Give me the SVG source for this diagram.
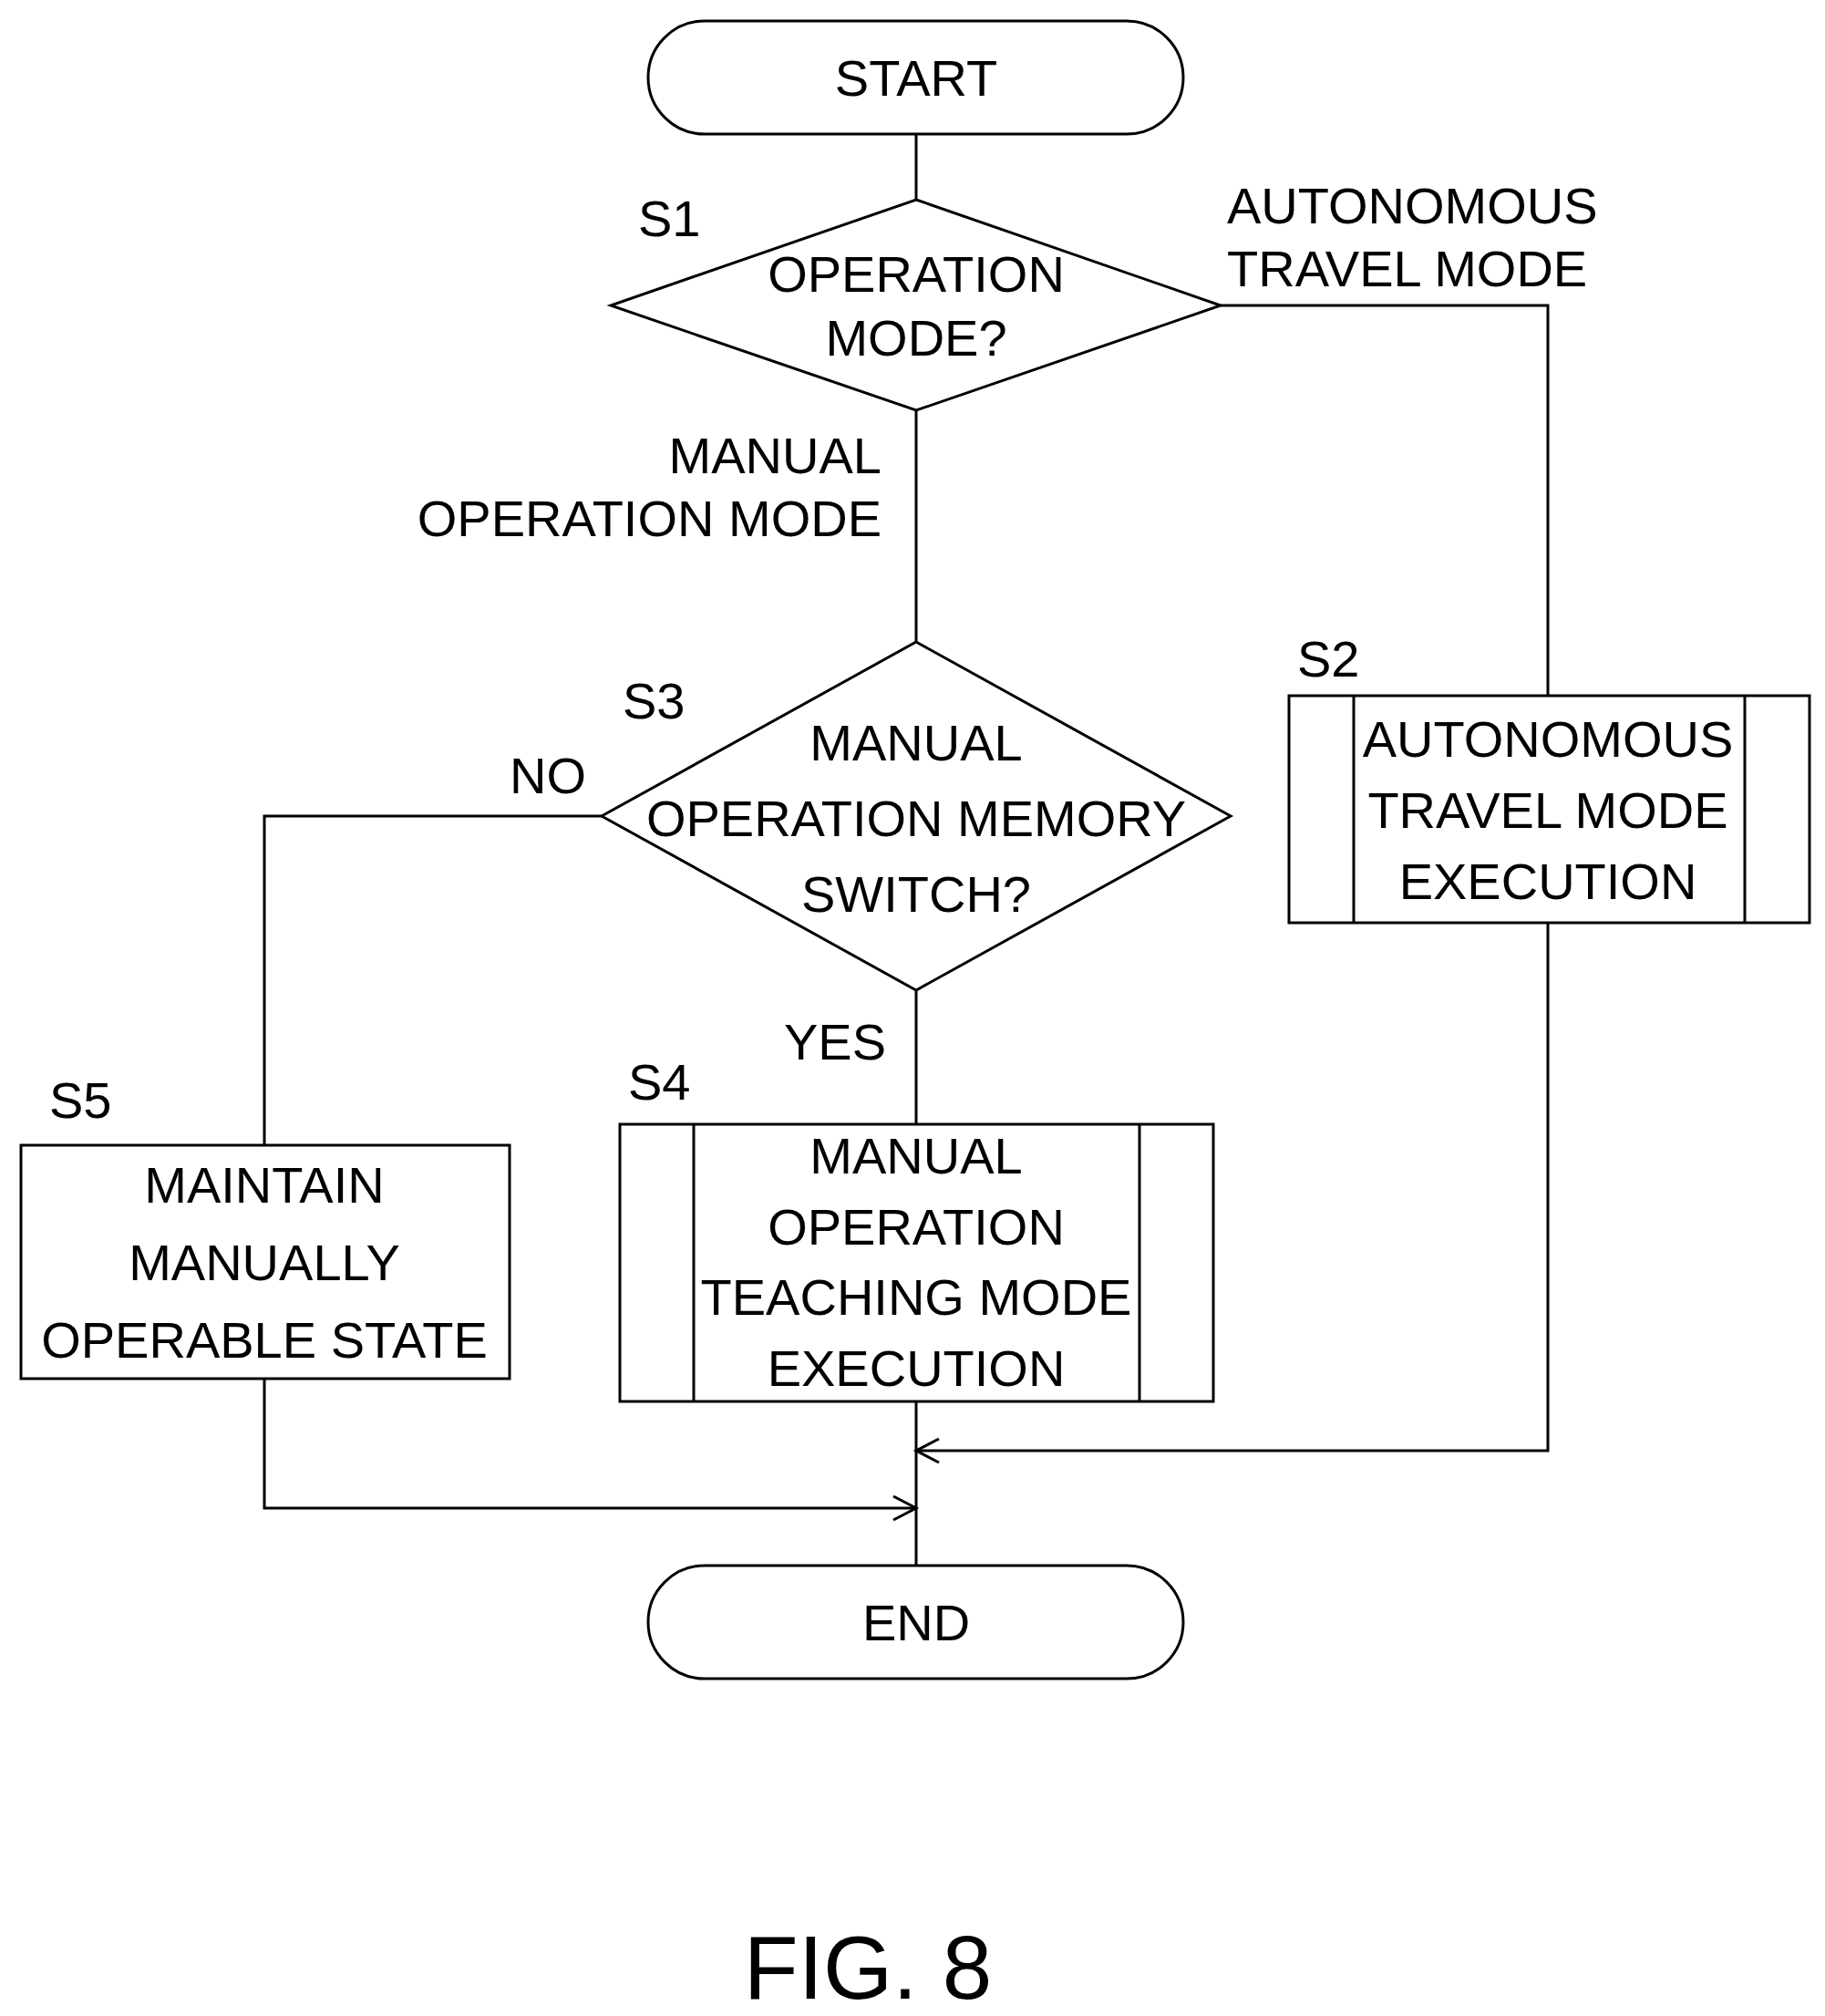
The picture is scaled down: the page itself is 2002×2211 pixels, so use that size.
<svg xmlns="http://www.w3.org/2000/svg" width="2002" height="2211" viewBox="0 0 2002 2211">
<style>
.s{fill:#fff;stroke:#000;stroke-width:3}
.l{fill:none;stroke:#000;stroke-width:3}
text{font-family:"Liberation Sans",Arial,sans-serif;font-size:56px;fill:#000}
.c{text-anchor:middle}
.r{text-anchor:end}
</style>
<rect width="2002" height="2211" fill="#fff"/>
<g id="connectors">
<path class="l" d="M1005 147V219M1339 335H1698V763M1005 450V704M660 895H290V1256M1005 1086V1233M1005 1537V1717M1698 1012V1591H1005M290 1512V1654H1005"/>
<path class="l" d="M1030 1578L1005 1591L1030 1604M980 1641L1005 1654L980 1667"/>
<text x="1346" y="245">AUTONOMOUS</text>
<text x="1346" y="314">TRAVEL MODE</text>
<text class="r" x="967" y="519">MANUAL</text>
<text class="r" x="967" y="588">OPERATION MODE</text>
<text x="559" y="870">NO</text>
<text x="860" y="1162">YES</text>
</g>
<g id="start"><rect class="s" x="711" y="23" width="587" height="124" rx="62"/><text class="c" x="1005" y="105">START</text></g>
<g id="S1"><path class="s" d="M1005 219L1339 335L1005 450L670 335Z"/><text x="700" y="259">S1</text>
<text class="c" x="1005" y="320">OPERATION</text><text class="c" x="1005" y="390">MODE?</text></g>
<g id="S3"><path class="s" d="M1005 704L1350 895L1005 1086L660 895Z"/><text x="683" y="788">S3</text>
<text class="c" x="1005" y="834">MANUAL</text><text class="c" x="1005" y="917">OPERATION MEMORY</text><text class="c" x="1005" y="1000">SWITCH?</text></g>
<g id="S2"><rect class="s" x="1414" y="763" width="571" height="249"/><path class="l" d="M1485 763V1012M1914 763V1012"/><text x="1423" y="742">S2</text>
<text class="c" x="1698" y="830">AUTONOMOUS</text><text class="c" x="1698" y="908">TRAVEL MODE</text><text class="c" x="1698" y="986">EXECUTION</text></g>
<g id="S4"><rect class="s" x="680" y="1233" width="651" height="304"/><path class="l" d="M761 1233V1537M1250 1233V1537"/><text x="689" y="1206">S4</text>
<text class="c" x="1005" y="1287">MANUAL</text><text class="c" x="1005" y="1365">OPERATION</text><text class="c" x="1005" y="1442">TEACHING MODE</text><text class="c" x="1005" y="1520">EXECUTION</text></g>
<g id="S5"><rect class="s" x="23" y="1256" width="536" height="256"/><text x="54" y="1226">S5</text>
<text class="c" x="290" y="1319">MAINTAIN</text><text class="c" x="290" y="1404">MANUALLY</text><text class="c" x="290" y="1489">OPERABLE STATE</text></g>
<g id="end"><rect class="s" x="711" y="1717" width="587" height="124" rx="62"/><text class="c" x="1005" y="1799">END</text></g>
<text class="c" x="952" y="2192" style="font-size:98px">FIG. 8</text>
</svg>
